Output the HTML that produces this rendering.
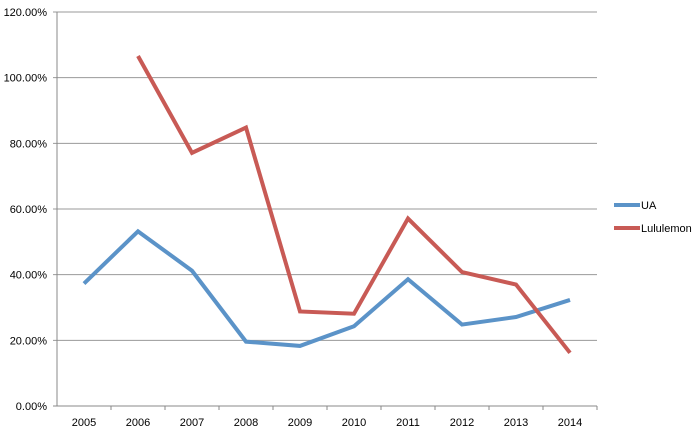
<!DOCTYPE html>
<html><head><meta charset="utf-8">
<style>
body{margin:0;background:#fff;font-family:"Liberation Sans",sans-serif;}
svg text{font-family:"Liberation Sans",sans-serif;font-size:11px;fill:#000;}
</style></head>
<body>
<svg id="chart" width="700" height="430" xmlns="http://www.w3.org/2000/svg"></svg>
<script>
const categories=["2005","2006","2007","2008","2009","2010","2011","2012","2013","2014"];
const uaValues=[37.3,53.2,41.2,19.6,18.3,24.3,38.6,24.8,27.1,32.3];
const luluValues=[null,106.6,77.1,84.8,28.8,28.1,57.1,40.8,37.0,16.2];
const yTicks=[0,20,40,60,80,100,120];
const yTickLabels=["0.00%","20.00%","40.00%","60.00%","80.00%","100.00%","120.00%"];
const seriesNames=["UA","Lululemon"];

const svg=document.getElementById('chart');
const NS="http://www.w3.org/2000/svg";
const L=57,R=597,T=12,B=406;
const bw=(R-L)/categories.length;
const x=i=>L+bw*(i+0.5);
const y=v=>B-(v/120)*(B-T);
function mk(t,a){const e=document.createElementNS(NS,t);for(const k in a)e.setAttribute(k,a[k]);svg.appendChild(e);return e;}
yTicks.forEach((v,i)=>{
  const g=mk('line',{x1:L-4,x2:R,y1:y(v),y2:y(v),stroke:i===0?'#888':'#999','stroke-width':1});
  
  
  const t=mk('text',{x:L-10,y:y(v)+4,'text-anchor':'end'});
  t.textContent=yTickLabels[i];
  
  
});
const ax=mk('line',{x1:L,x2:L,y1:T,y2:B,stroke:'#888'});


categories.forEach((c,i)=>{
  const tk=mk('line',{x1:L+bw*(i+1),x2:L+bw*(i+1),y1:B,y2:B+4,stroke:'#888'});
  
  
  const t=mk('text',{x:x(i),y:B+20,'text-anchor':'middle'});
  t.textContent=c;
  
  
});
function line(vals,color,name){
  let d='';vals.forEach((v,i)=>{if(v==null)return;d+=(d?'L':'M')+x(i)+' '+y(v)+' ';});
  const p=mk('path',{d:d,fill:'none',stroke:color,'stroke-width':4,'stroke-linejoin':'miter'});
  
  
}
line(uaValues,'#5b93c8','ua-line');
line(luluValues,'#c85a55','lululemon-line');
[['#5b93c8',205],['#c85a55',228]].forEach((s,i)=>{
  const l=mk('line',{x1:614,x2:640,y1:s[1],y2:s[1],stroke:s[0],'stroke-width':4});
  
  
  const t=mk('text',{x:641,y:s[1]+4});
  t.textContent=seriesNames[i];
  
  
});
</script>
</body></html>
